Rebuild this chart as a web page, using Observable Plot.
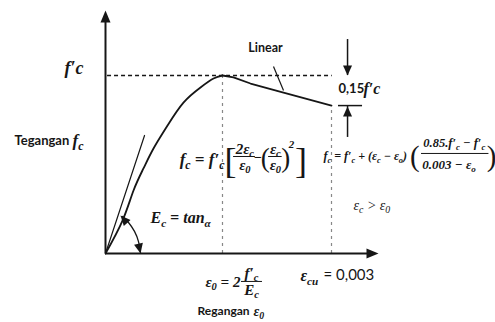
<!DOCTYPE html>
<html><head><meta charset="utf-8">
<script src="https://cdn.jsdelivr.net/npm/d3@7"></script>
<script src="https://cdn.jsdelivr.net/npm/@observablehq/plot@0.6"></script>
<style>body{margin:0;background:#fff}</style>
</head><body><div id="chart"></div>
<script>
// Strain in ‰ (per mille), stress as a fraction of f'c
const eps0 = 1.553, epsCu = 3.0, fPeak = 1.0, fEnd = 0.831;
const riseStrain = [0, 0.226, 0.372, 0.504, 0.637, 0.823, 1.035, 1.261, 1.434, 1.553];
const riseStress = [0, 0.185, 0.354, 0.478, 0.590, 0.719, 0.848, 0.933, 0.983, 1.0];
const fallStrain = [1.553, 1.699, 1.925, 2.363, 3.0];
const fallStress = [1.0, 0.989, 0.955, 0.904, 0.831];
const tangentStrain = [0, 0.518];
const tangentStress = [0, 0.663];
const arcStrain = [0.226, 0.305, 0.385, 0.438, 0.465];
const arcStress = [0.208, 0.174, 0.124, 0.067, 0.006];
const axisEnds = {x: 3.624, y: 1.365};

// arrow heads: tip positions and directions
const axisHeads = [{x: 0, y: axisEnds.y, rot: 0}, {x: axisEnds.x, y: 0, rot: 90}];
const smallHeads = [
  {x: 3.213, y: 1.0, rot: 180}, {x: 3.213, y: 0.826, rot: 0},
  {x: 0.199, y: 0.213, rot: -42}, {x: 0.465, y: 0.0, rot: 168}
];

// math labels (serif bold italic)
const mathStart = [
  {x: -0.438, y: 0.635, t: "f_{c}", s: 17},
  {x: 2.894, y: 0.545, t: "f_{c} = f′_{c} + (ε_{c} − ε_{o})", s: 12},
  {x: 0.597, y: 0.202, t: "E_{c} = tan_{α}", s: 16},
  {x: 1.327, y: -0.163, t: "ε_{0} = 2", s: 15},
  {x: 2.589, y: -0.124, t: "ε_{cu}", s: 16},
  {x: 1.965, y: -0.326, t: "ε_{0}", s: 14},
  {x: 3.425, y: 0.927, t: "f′c", s: 16}
];
const mathMiddle = [
  {x: 1.850, y: 0.584, t: "2ε_{c}", s: 15},
  {x: 1.850, y: 0.495, t: "ε_{0}", s: 15},
  {x: 2.255, y: 0.584, t: "ε_{c}", s: 15},
  {x: 2.255, y: 0.495, t: "ε_{0}", s: 15},
  {x: 2.020, y: 0.539, t: "−", s: 14},
  {x: 2.470, y: 0.612, t: "2", s: 11},
  {x: 4.630, y: 0.618, t: "0.85.f′_{c} − f′_{c}", s: 12.5},
  {x: 4.560, y: 0.500, t: "0.003 − ε_{o}", s: 13},
  {x: 1.938, y: -0.112, t: "f′_{c}", s: 15},
  {x: 1.938, y: -0.208, t: "E_{c}", s: 15}
];
const mathEnd = [
  {x: -0.292, y: 1.039, t: "f′c", s: 18},
  {x: 1.580, y: 0.528, t: "f_{c} = f′_{c}", s: 17}
];
const mathPlain = [{x: 3.292, y: 0.270, t: "ε_{c} > ε_{0}", s: 14}];
const brackets = [
  {x: 1.660, y: 0.515, t: "[", s: 36}, {x: 2.120, y: 0.534, t: "(", s: 27},
  {x: 2.394, y: 0.534, t: ")", s: 27}, {x: 2.595, y: 0.515, t: "]", s: 36},
  {x: 4.105, y: 0.545, t: "(", s: 29}, {x: 5.125, y: 0.545, t: ")", s: 29}
];
const fractionBars = [
  {x1: 1.700, x2: 1.990, y: 0.545}, {x1: 2.165, x2: 2.345, y: 0.545},
  {x1: 4.195, x2: 5.090, y: 0.562}, {x1: 1.805, x2: 2.084, y: -0.157}
];
// sans labels
const sansBold = [
  {x: -1.208, y: 0.635, t: "Tegangan", s: 13},
  {x: 3.093, y: 0.927, t: "0,15", s: 13},
  {x: 1.221, y: -0.326, t: "Regangan", s: 12}
];
const sansPlain = [{x: 2.894, y: -0.124, t: "= 0,003", s: 15}];
const linearLabel = [{x: 2.124, y: 1.152, t: "Linear", s: 12.5}];
const pointer = [{x1: 2.230, y1: 1.051, x2: 2.363, y2: 0.916}];
const bracketTick = {x1: 3.093, x2: 3.412, y: fEnd};
const dropArrow = {x: 3.213, top: 1.202, bottom: 0.652};

const zip = (xs, ys) => xs.map((x, i) => ({x, y: ys[i]}));
const ink = "#161616";
const serif = "Liberation Serif";
const sans = "Lato";
const head = {draw(ctx, l, r) { ctx.moveTo(0, -l); ctx.lineTo(-r, 0); ctx.lineTo(r, 0); ctx.closePath(); }};
const txt = (data, o) => Plot.text(data, {x: "x", y: "y", text: "t", fontSize: "s", fill: ink, ...o});

const svg = Plot.plot({
  width: 495, height: 322,
  marginLeft: 105, marginRight: 164, marginTop: 75, marginBottom: 69,
  x: {domain: [0, 3], axis: null},
  y: {domain: [0, 1], axis: null},
  style: {background: "#fff", overflow: "visible"},
  marks: [
    Plot.ruleY([fPeak], {x1: 0.027, x2: 3.01, stroke: ink, strokeWidth: 1.5, strokeDasharray: "4,3"}),
    Plot.ruleX([eps0], {y1: 0, y2: fPeak, stroke: "#888", strokeWidth: 1.2, strokeDasharray: "3,4"}),
    Plot.ruleX([epsCu], {y1: 0, y2: fEnd, stroke: "#888", strokeWidth: 1.2, strokeDasharray: "3,4"}),
    Plot.ruleX([0], {y1: 0, y2: axisEnds.y - 0.05, stroke: ink, strokeWidth: 2}),
    Plot.ruleY([0], {x1: 0, x2: axisEnds.x - 0.1, stroke: ink, strokeWidth: 2}),
    Plot.line(zip(tangentStrain, tangentStress), {x: "x", y: "y", stroke: ink, strokeWidth: 1.2}),
    Plot.line(zip(riseStrain, riseStress), {x: "x", y: "y", curve: "natural", stroke: ink, strokeWidth: 1.8}),
    Plot.line(zip(fallStrain, fallStress), {x: "x", y: "y", stroke: ink, strokeWidth: 1.8}),
    Plot.line(zip(arcStrain, arcStress), {x: "x", y: "y", curve: "natural", stroke: ink, strokeWidth: 1.3}),
    Plot.link(pointer, {x1: "x1", y1: "y1", x2: "x2", y2: "y2", stroke: ink, strokeWidth: 1.2}),
    Plot.ruleY([bracketTick.y], {x1: bracketTick.x1, x2: bracketTick.x2, stroke: ink, strokeWidth: 1.5}),
    Plot.ruleX([dropArrow.x], {y1: 1.0, y2: dropArrow.top, stroke: ink, strokeWidth: 1.5}),
    Plot.ruleX([dropArrow.x], {y1: dropArrow.bottom, y2: 0.826, stroke: ink, strokeWidth: 1.5}),
    Plot.ruleY(fractionBars, {x1: "x1", x2: "x2", y: "y", stroke: ink, strokeWidth: 1}),
    Plot.vector(axisHeads, {x: "x", y: "y", rotate: "rot", length: 12, r: 5, anchor: "end", shape: head, fill: ink, stroke: "none"}),
    Plot.vector(smallHeads, {x: "x", y: "y", rotate: "rot", length: 10, r: 4.5, anchor: "end", shape: head, fill: ink, stroke: "none"}),
    txt(mathStart, {textAnchor: "start", fontFamily: serif, fontWeight: "bold", fontStyle: "italic"}),
    txt(mathMiddle, {textAnchor: "middle", fontFamily: serif, fontWeight: "bold", fontStyle: "italic"}),
    txt(mathEnd, {textAnchor: "end", fontFamily: serif, fontWeight: "bold", fontStyle: "italic"}),
    txt(mathPlain, {textAnchor: "start", fontFamily: serif, fontStyle: "italic"}),
    txt(brackets, {textAnchor: "middle", fontFamily: serif}),
    txt(sansBold, {textAnchor: "start", fontFamily: sans, fontWeight: "bold"}),
    txt(sansPlain, {textAnchor: "start", fontFamily: sans}),
    txt(linearLabel, {textAnchor: "middle", fontFamily: sans, fontWeight: "bold"})
  ]
});

// turn _{..} and ^{..} into real sub/superscript tspans
svg.querySelectorAll("text").forEach(t => {
  const s = t.textContent;
  if (!/[_^]\{/.test(s)) return;
  const fs = parseFloat(t.getAttribute("font-size") || t.parentNode.getAttribute("font-size") || 12);
  t.textContent = "";
  const re = /([_^])\{([^}]*)\}/g;
  let last = 0, m;
  while ((m = re.exec(s))) {
    if (m.index > last) t.appendChild(document.createTextNode(s.slice(last, m.index)));
    const ts = document.createElementNS("http://www.w3.org/2000/svg", "tspan");
    ts.setAttribute("baseline-shift", (m[1] === "_" ? -0.22 : 0.4) * fs + "px");
    ts.setAttribute("font-size", 0.7 * fs + "px");
    ts.textContent = m[2];
    t.appendChild(ts);
    last = re.lastIndex;
  }
  if (last < s.length) t.appendChild(document.createTextNode(s.slice(last)));
});

document.getElementById("chart").appendChild(svg);
</script>
</body></html>
